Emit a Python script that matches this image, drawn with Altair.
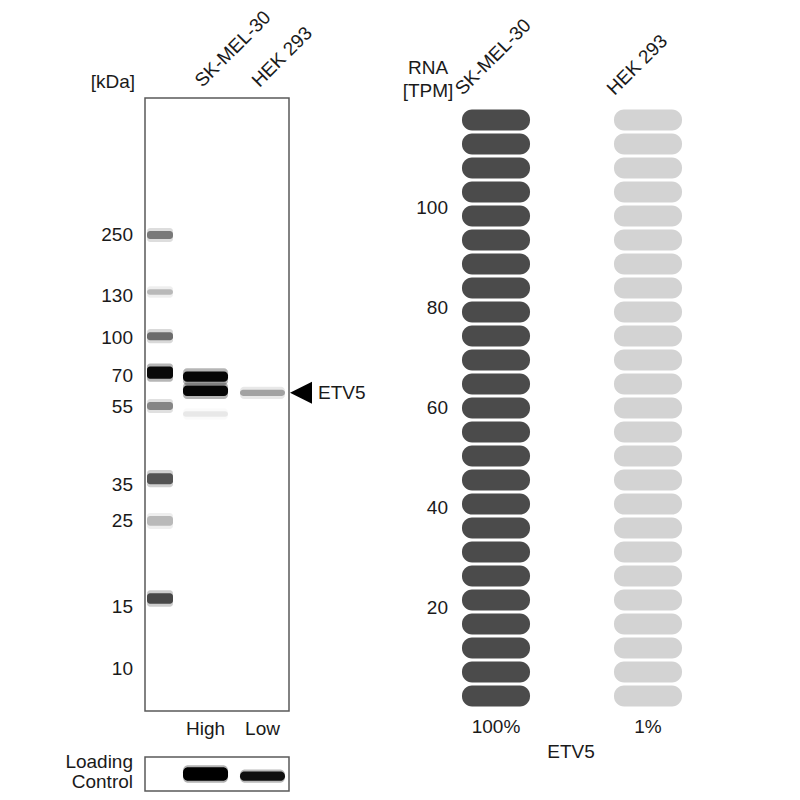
import altair as alt
import pandas as pd

FONT = "Liberation Sans, Arial, Helvetica, sans-serif"
INK = "#1a1a1a"
FS = 19

# ---------------- Western blot data (relative migration 0 = top of gel, 1 = bottom) -------------
marker_kda = ["250", "130", "100", "70", "55", "35", "25", "15", "10"]
marker_label_rf = [0.223, 0.323, 0.392, 0.454, 0.504, 0.631, 0.690, 0.830, 0.932]
ladder_top = [0.217, 0.312, 0.382, 0.438, 0.496, 0.612, 0.682, 0.808]
ladder_bottom = [0.230, 0.321, 0.395, 0.458, 0.509, 0.630, 0.698, 0.825]
ladder_od = [0.45, 0.22, 0.50, 0.95, 0.40, 0.60, 0.22, 0.65]

lanes = ["SK-MEL-30", "HEK 293"]
lane_level = ["High", "Low"]
band_lane = ["SK-MEL-30", "SK-MEL-30", "SK-MEL-30", "HEK 293"]
band_top = [0.446, 0.469, 0.511, 0.476]
band_bottom = [0.463, 0.486, 0.520, 0.486]
band_od = [0.97, 0.97, 0.07, 0.30]
target = ["ETV5"]
target_rf = [0.481]

loading_lane = ["SK-MEL-30", "HEK 293"]
loading_top = [0.30, 0.43]
loading_bottom = [0.70, 0.70]
loading_od = [1.0, 0.92]

# ---------------- RNA data ----------------
rna_lines = ["SK-MEL-30", "HEK 293"]
rna_pct = [100, 1]
tpm_ticks = [20, 40, 60, 80, 100]
tpm_max = 120
n_pills = 25
gene = ["ETV5"]

# ---------------- scales (placement of each panel) ----------------
blot_y = alt.Scale(domain=[0, 1], range=[90, 703], nice=False, zero=False)
ladder_x = alt.Scale(type="band", domain=["Marker"], range=[139, 165], paddingInner=0, paddingOuter=0)
lane_x = alt.Scale(type="band", domain=lanes, range=[175, 277], paddingInner=0.21, paddingOuter=0)
load_y = alt.Scale(domain=[0, 1], range=[749, 783], nice=False, zero=False)
rna_x = alt.Scale(type="band", domain=rna_lines, range=[454, 674], paddingInner=0.5526, paddingOuter=0)
rna_y = alt.Scale(domain=[0, tpm_max], range=[700, 100], nice=False, zero=False)

HALO = 0.005

# ---------------- data frames ----------------
frame_df = pd.DataFrame({"top": [0], "bottom": [1]})
ladder_df = pd.DataFrame({"lane": ["Marker"] * len(ladder_top), "top": ladder_top,
                          "bottom": ladder_bottom, "od": ladder_od})
marker_df = pd.DataFrame({"kda": marker_kda, "rf": marker_label_rf})
band_df = pd.DataFrame({"lane": band_lane, "top": band_top, "bottom": band_bottom, "od": band_od})
lane_df = pd.DataFrame({"lane": lanes, "level": lane_level})
target_df = pd.DataFrame({"name": target, "rf": target_rf})
load_df = pd.DataFrame({"lane": loading_lane, "top": loading_top, "bottom": loading_bottom, "od": loading_od})

step = tpm_max / n_pills
pill_rows = []
for line, pct in zip(rna_lines, rna_pct):
    for i in range(n_pills):
        pill_rows.append({"line": line, "pct": pct,
                          "y0": i * step + 0.3, "y1": (i + 1) * step - 0.3})
pill_df = pd.DataFrame(pill_rows)
rna_df = pd.DataFrame({"line": rna_lines, "pct": rna_pct})
tick_df = pd.DataFrame({"tpm": tpm_ticks})
gene_df = pd.DataFrame({"gene": gene})
one = pd.DataFrame({"k": [0]})


def txt(**kw):
    base = dict(font=FONT, fontSize=FS, color=INK)
    base.update(kw)
    return base


layers = []

# blot frame
layers.append(alt.Chart(frame_df).mark_rect(fill="white", stroke="#5a5a5a", strokeWidth=1.5).encode(
    x=alt.value(137), x2=alt.value(281),
    y=alt.Y("top:Q", scale=blot_y, axis=None), y2="bottom:Q"))

# ladder bands (halo + core)
layers.append(alt.Chart(ladder_df).transform_calculate(
    t=f"datum.top - {HALO}", b=f"datum.bottom + {HALO}", o="datum.od * 0.3").mark_bar(
    color="black", cornerRadius=3).encode(
    x=alt.X("lane:N", scale=ladder_x, axis=None),
    y=alt.Y("t:Q", scale=blot_y, axis=None), y2="b:Q",
    opacity=alt.Opacity("o:Q", scale=None)))
layers.append(alt.Chart(ladder_df).mark_bar(color="black", cornerRadius=3).encode(
    x=alt.X("lane:N", scale=ladder_x, axis=None),
    y=alt.Y("top:Q", scale=blot_y, axis=None), y2="bottom:Q",
    opacity=alt.Opacity("od:Q", scale=None)))

# sample bands (halo + core)
layers.append(alt.Chart(band_df).transform_calculate(
    t=f"datum.top - {HALO}", b=f"datum.bottom + {HALO}", o="datum.od * 0.3").mark_bar(
    color="black", cornerRadius=4).encode(
    x=alt.X("lane:N", scale=lane_x, axis=None),
    y=alt.Y("t:Q", scale=blot_y, axis=None), y2="b:Q",
    opacity=alt.Opacity("o:Q", scale=None)))
layers.append(alt.Chart(band_df).mark_bar(color="black", cornerRadius=4).encode(
    x=alt.X("lane:N", scale=lane_x, axis=None),
    y=alt.Y("top:Q", scale=blot_y, axis=None), y2="bottom:Q",
    opacity=alt.Opacity("od:Q", scale=None)))

# marker labels
layers.append(alt.Chart(marker_df).mark_text(**txt(align="right", baseline="middle")).encode(
    x=alt.value(125), y=alt.Y("rf:Q", scale=blot_y, axis=None), text="kda:N"))

# [kDa] header
layers.append(alt.Chart(one).mark_text(**txt(align="right", baseline="middle", text="[kDa]")).encode(
    x=alt.value(127), y=alt.value(74)))

# rotated lane labels over blot
layers.append(alt.Chart(lane_df).mark_text(**txt(align="left", baseline="alphabetic", angle=315,
                                                  dx=-2.2, dy=-2.2)).encode(
    x=alt.X("lane:N", scale=lane_x, axis=None), y=alt.value(80), text="lane:N"))

# High / Low
layers.append(alt.Chart(lane_df).mark_text(**txt(align="center", baseline="middle")).encode(
    x=alt.X("lane:N", scale=lane_x, axis=None), y=alt.value(721), text="level:N"))

# arrow + target name
layers.append(alt.Chart(target_df).mark_point(shape="M1,-1L-1,0L1,1Z", size=484, filled=True,
                                             color="black", opacity=1).encode(
    x=alt.value(293), y=alt.Y("rf:Q", scale=blot_y, axis=None)))
layers.append(alt.Chart(target_df).mark_text(**txt(align="left", baseline="middle")).encode(
    x=alt.value(310), y=alt.Y("rf:Q", scale=blot_y, axis=None), text="name:N"))

# loading control
layers.append(alt.Chart(frame_df).mark_rect(fill="white", stroke="#5a5a5a", strokeWidth=1.5).encode(
    x=alt.value(137), x2=alt.value(281),
    y=alt.Y("top:Q", scale=load_y, axis=None), y2="bottom:Q"))
layers.append(alt.Chart(load_df).transform_calculate(
    t="datum.top - 0.06", b="datum.bottom + 0.06", o="datum.od * 0.3").mark_bar(
    color="black", cornerRadius=5).encode(
    x=alt.X("lane:N", scale=lane_x, axis=None),
    y=alt.Y("t:Q", scale=load_y, axis=None), y2="b:Q",
    opacity=alt.Opacity("o:Q", scale=None)))
layers.append(alt.Chart(load_df).mark_bar(color="black", cornerRadius=5).encode(
    x=alt.X("lane:N", scale=lane_x, axis=None),
    y=alt.Y("top:Q", scale=load_y, axis=None), y2="bottom:Q",
    opacity=alt.Opacity("od:Q", scale=None)))
layers.append(alt.Chart(one).mark_text(**txt(align="right", baseline="middle",
                                             text=["Loading", "Control"], lineHeight=20)).encode(
    x=alt.value(125), y=alt.value(754)))

# ---------------- RNA panel ----------------
layers.append(alt.Chart(pill_df).mark_bar(cornerRadius=10).encode(
    x=alt.X("line:N", scale=rna_x, axis=None),
    y=alt.Y("y0:Q", scale=rna_y, axis=None), y2="y1:Q",
    color=alt.Color("pct:Q", scale=alt.Scale(domain=[0, 100], range=["#d4d4d4", "#4b4b4b"]),
                    legend=None)))
layers.append(alt.Chart(tick_df).mark_text(**txt(align="right", baseline="middle")).encode(
    x=alt.value(440), y=alt.Y("tpm:Q", scale=rna_y, axis=None), text="tpm:Q"))
layers.append(alt.Chart(one).mark_text(**txt(align="center", baseline="middle",
                                             text=["RNA", "[TPM]"], lineHeight=23)).encode(
    x=alt.value(420), y=alt.value(60)))
layers.append(alt.Chart(rna_df).mark_text(**txt(align="left", baseline="alphabetic", angle=315,
                                                 dx=-23.6, dy=-23.6)).encode(
    x=alt.X("line:N", scale=rna_x, axis=None), y=alt.value(88), text="line:N"))
layers.append(alt.Chart(rna_df).transform_calculate(lbl="datum.pct + '%'").mark_text(
    **txt(align="center", baseline="middle")).encode(
    x=alt.X("line:N", scale=rna_x, axis=None), y=alt.value(719), text="lbl:N"))
layers.append(alt.Chart(gene_df).mark_text(**txt(align="center", baseline="middle")).encode(
    x=alt.value(563), y=alt.value(744), text="gene:N"))

chart = alt.layer(*layers).resolve_scale(
    x="independent", y="independent", color="independent", opacity="independent"
).properties(
    width=784, height=784, autosize=alt.AutoSizeParams(type="none"), padding=0,
    background="white"
).configure_view(stroke=None)

chart.save("out.html", embed_options={"renderer": "svg", "actions": False})
